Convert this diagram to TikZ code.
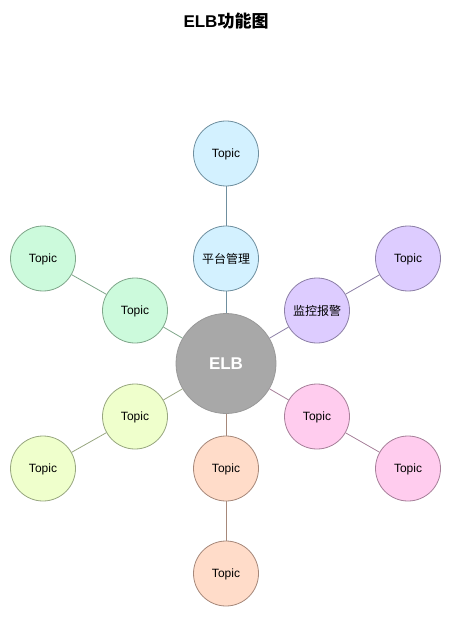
\documentclass[tikz,border=0pt]{standalone}
\usepackage{fontspec}
\setmainfont{Liberation Sans}
\newfontfamily\cjk{Noto Sans CJK SC}
\definecolor{bfill}{HTML}{D3F1FF}\definecolor{bdraw}{HTML}{6F8F9F}
\definecolor{gfill}{HTML}{CCFADC}\definecolor{gdraw}{HTML}{7FA68A}
\definecolor{pfill}{HTML}{DDCCFF}\definecolor{pdraw}{HTML}{8C7FA6}
\definecolor{kfill}{HTML}{FFCCEE}\definecolor{kdraw}{HTML}{A67F99}
\definecolor{ofill}{HTML}{FFDCC9}\definecolor{odraw}{HTML}{A6887A}
\definecolor{yfill}{HTML}{EFFFCC}\definecolor{ydraw}{HTML}{97A67F}
\definecolor{efill}{HTML}{A8A8A8}\definecolor{edraw}{HTML}{999999}
\tikzset{
  x=1pt,y=-1pt,
  topic/.style={circle,draw=#1draw,fill=#1fill,minimum size=65pt,inner sep=0pt,font=\fontsize{12}{14}\selectfont,line width=0.8pt,text depth=1pt},
  link/.style={draw=#1draw,line width=0.8pt},
  core/.style={circle,draw=edraw,fill=efill,minimum size=100pt,inner sep=0pt,text=white,font=\bfseries\fontsize{17}{20}\selectfont,line width=0.8pt},
  title/.style={font=\bfseries\fontsize{17}{20}\selectfont}
}
\begin{document}
\begin{tikzpicture}
\useasboundingbox (0,0) rectangle (452,617);
\node[title] (t) at (226,21) {ELB{\cjk 功能图}};
\node[core] (elb) at (226,363.5) {ELB};
\node[topic=b] (b1) at (226,258.5) {\cjk 平台管理};
\node[topic=b] (b2) at (226,153.5) {Topic};
\node[topic=p] (p1) at (317,310.5) {\cjk 监控报警};
\node[topic=p] (p2) at (408,258.5) {Topic};
\node[topic=k] (k1) at (317,416.5) {Topic};
\node[topic=k] (k2) at (408,468.5) {Topic};
\node[topic=o] (o1) at (226,468.5) {Topic};
\node[topic=o] (o2) at (226,573.5) {Topic};
\node[topic=y] (y1) at (135,416.5) {Topic};
\node[topic=y] (y2) at (43,468.5) {Topic};
\node[topic=g] (g1) at (135,310.5) {Topic};
\node[topic=g] (g2) at (43,258.5) {Topic};
\draw[link=b] (elb) -- (b1); \draw[link=b] (b1) -- (b2);
\draw[link=p] (elb) -- (p1); \draw[link=p] (p1) -- (p2);
\draw[link=k] (elb) -- (k1); \draw[link=k] (k1) -- (k2);
\draw[link=o] (elb) -- (o1); \draw[link=o] (o1) -- (o2);
\draw[link=y] (elb) -- (y1); \draw[link=y] (y1) -- (y2);
\draw[link=g] (elb) -- (g1); \draw[link=g] (g1) -- (g2);
\end{tikzpicture}
\end{document}
